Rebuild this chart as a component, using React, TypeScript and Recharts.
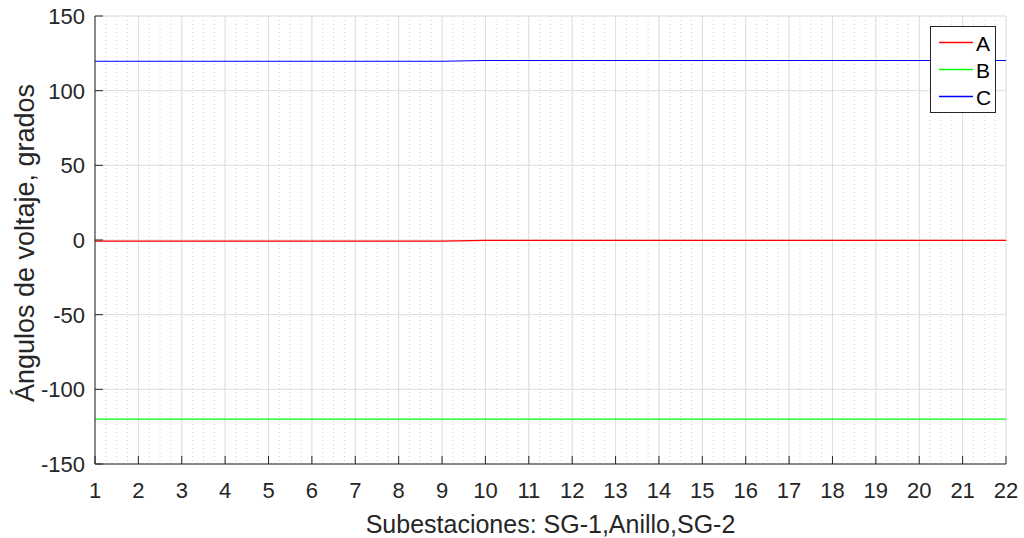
import { LineChart, Line, XAxis, YAxis, CartesianGrid } from "recharts";

const subestaciones = [1, 2, 3, 4, 5, 6, 7, 8, 9, 10, 11, 12, 13, 14, 15, 16, 17, 18, 19, 20, 21, 22];
const faseA = [-0.8, -0.8, -0.8, -0.8, -0.8, -0.8, -0.8, -0.8, -0.8, -0.2, -0.2, -0.2, -0.2, -0.2, -0.2, -0.2, -0.2, -0.2, -0.2, -0.2, -0.2, -0.2];
const faseB = [-120, -120, -120, -120, -120, -120, -120, -120, -120, -120, -120, -120, -120, -120, -120, -120, -120, -120, -120, -120, -120, -120];
const faseC = [119.7, 119.7, 119.7, 119.7, 119.7, 119.7, 119.7, 119.7, 119.7, 120.2, 120.2, 120.2, 120.2, 120.2, 120.2, 120.2, 120.2, 120.2, 120.2, 120.2, 120.2, 120.2];
const yTicks = [-150, -100, -50, 0, 50, 100, 150];
const xMinor = Array.from({ length: 85 }, (_, i) => 1 + i * 0.25);
const yMinor = Array.from({ length: 31 }, (_, i) => -150 + i * 10);

const series = [
  { key: "A", color: "#ff0000" },
  { key: "B", color: "#00ff00" },
  { key: "C", color: "#0000ff" },
];

const data = subestaciones.map((s, i) => ({ s, A: faseA[i], B: faseB[i], C: faseC[i] }));

const font = "'Liberation Sans', Arial, sans-serif";
const ink = "#262626";

function XTick({ x, y, payload }: any) {
  return (
    <g>
      <line x1={x} x2={x} y1={y - 14} y2={y - 22} stroke={ink} />
      <text x={x} y={y} dy={20} textAnchor="middle" fontSize={22} fill={ink} fontFamily={font}>
        {payload.value}
      </text>
    </g>
  );
}

function YTick({ x, y, payload }: any) {
  return (
    <g>
      <line x1={x + 10} x2={x + 18} y1={y} y2={y} stroke={ink} />
      <text x={x} y={y} dy={8} textAnchor="end" fontSize={22} fill={ink} fontFamily={font}>
        {payload.value}
      </text>
    </g>
  );
}

function XLabel({ viewBox }: any) {
  const cx = viewBox.x + viewBox.width / 2;
  return (
    <text x={cx} y={viewBox.y + 69} textAnchor="middle" fontSize={25} fill={ink} fontFamily={font}>
      Subestaciones: SG-1,Anillo,SG-2
    </text>
  );
}

function YLabel({ viewBox }: any) {
  const x = viewBox.x + 34;
  const y = viewBox.y + viewBox.height / 2 + 3;
  return (
    <text x={x} y={y} transform={`rotate(-90 ${x} ${y})`} textAnchor="middle" fontSize={27} fill={ink} fontFamily={font}>
      Ángulos de voltaje, grados
    </text>
  );
}

function Legend() {
  return (
    <svg
      width={66}
      height={87}
      style={{ position: "absolute", left: 930, top: 26 }}
    >
      <rect x={0.5} y={0.5} width={65} height={86} fill="#fff" stroke={ink} />
      {series.map((s, i) => {
        const ly = 16.5 + i * 27;
        return (
          <g key={s.key}>
            <line x1={9} x2={43} y1={ly} y2={ly} stroke={s.color} strokeWidth={1.5} />
            <text x={46} y={ly + 8} fontSize={21} fill="#000" fontFamily={font}>
              {s.key}
            </text>
          </g>
        );
      })}
    </svg>
  );
}

export default function App() {
  return (
    <div style={{ position: "absolute", left: 0, top: 0, width: 1024, height: 538, background: "#fff" }}>
      <LineChart width={1024} height={538} data={data} margin={{ top: 16, right: 18, left: 0, bottom: 0 }}>
        <XAxis xAxisId="minor" dataKey="s" type="number" domain={[1, 22]} ticks={xMinor} interval={0} hide />
        <YAxis yAxisId="minor" type="number" domain={[-150, 150]} ticks={yMinor} interval={0} hide />
        <CartesianGrid xAxisId="minor" yAxisId="minor" stroke="#cfcfcf" strokeDasharray="1 3" />
        <CartesianGrid stroke="#dedede" />
        <XAxis
          dataKey="s"
          type="number"
          domain={[1, 22]}
          ticks={subestaciones}
          interval={0}
          height={74}
          tickSize={0}
          tickMargin={14}
          tick={<XTick />}
          stroke={ink}
          label={<XLabel />}
        />
        <XAxis xAxisId="top" orientation="top" dataKey="s" type="number" domain={[1, 22]} height={0} tick={false} tickLine={false} stroke={ink} />
        <YAxis
          type="number"
          domain={[-150, 150]}
          ticks={yTicks}
          interval={0}
          width={95}
          tickSize={0}
          tickMargin={10}
          tick={<YTick />}
          stroke={ink}
          label={<YLabel />}
        />
        <YAxis yAxisId="right" orientation="right" domain={[-150, 150]} width={0} tick={false} tickLine={false} stroke={ink} />
        {series.map((s) => (
          <Line key={s.key} dataKey={s.key} stroke={s.color} strokeWidth={1.2} dot={false} isAnimationActive={false} />
        ))}
      </LineChart>
      <Legend />
    </div>
  );
}
